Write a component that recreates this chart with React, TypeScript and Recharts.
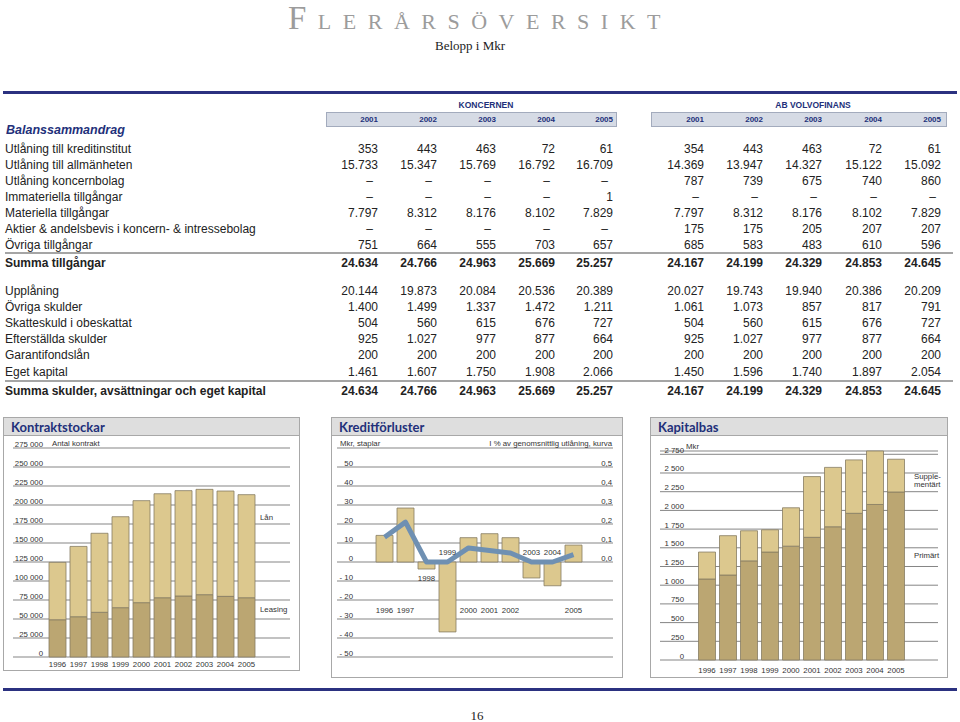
import React from "react";
import { ComposedChart, Bar, Line, XAxis, YAxis, CartesianGrid } from "recharts";

// ---- table data (Mkr) ----
const tableYears = ["2001", "2002", "2003", "2004", "2005"];

const assetLabels = [
  "Utlåning till kreditinstitut",
  "Utlåning till allmänheten",
  "Utlåning koncernbolag",
  "Immateriella tillgångar",
  "Materiella tillgångar",
  "Aktier & andelsbevis i koncern- & intressebolag",
  "Övriga tillgångar",
];
const assetKoncernen = [
  ["353", "443", "463", "72", "61"],
  ["15.733", "15.347", "15.769", "16.792", "16.709"],
  ["–", "–", "–", "–", "–"],
  ["–", "–", "–", "–", "1"],
  ["7.797", "8.312", "8.176", "8.102", "7.829"],
  ["–", "–", "–", "–", "–"],
  ["751", "664", "555", "703", "657"],
];
const assetVolvofinans = [
  ["354", "443", "463", "72", "61"],
  ["14.369", "13.947", "14.327", "15.122", "15.092"],
  ["787", "739", "675", "740", "860"],
  ["–", "–", "–", "–", "–"],
  ["7.797", "8.312", "8.176", "8.102", "7.829"],
  ["175", "175", "205", "207", "207"],
  ["685", "583", "483", "610", "596"],
];
const sumKoncernen = ["24.634", "24.766", "24.963", "25.669", "25.257"];
const sumVolvofinans = ["24.167", "24.199", "24.329", "24.853", "24.645"];

const liabilityLabels = [
  "Upplåning",
  "Övriga skulder",
  "Skatteskuld i obeskattat",
  "Efterställda skulder",
  "Garantifondslån",
  "Eget kapital",
];
const liabilityKoncernen = [
  ["20.144", "19.873", "20.084", "20.536", "20.389"],
  ["1.400", "1.499", "1.337", "1.472", "1.211"],
  ["504", "560", "615", "676", "727"],
  ["925", "1.027", "977", "877", "664"],
  ["200", "200", "200", "200", "200"],
  ["1.461", "1.607", "1.750", "1.908", "2.066"],
];
const liabilityVolvofinans = [
  ["20.027", "19.743", "19.940", "20.386", "20.209"],
  ["1.061", "1.073", "857", "817", "791"],
  ["504", "560", "615", "676", "727"],
  ["925", "1.027", "977", "877", "664"],
  ["200", "200", "200", "200", "200"],
  ["1.450", "1.596", "1.740", "1.897", "2.054"],
];

// ---- chart data ----
const years = ["1996", "1997", "1998", "1999", "2000", "2001", "2002", "2003", "2004", "2005"];

// Kontraktstockar (antal kontrakt)
const leasing = [49000, 53000, 58800, 64900, 71500, 78000, 80300, 82000, 79800, 78000];
const lan = [75500, 92500, 104000, 119700, 134200, 136800, 138600, 138600, 138600, 135600];
const contractTicks = [0, 25000, 50000, 75000, 100000, 125000, 150000, 175000, 200000, 225000, 250000, 275000];

// Kreditförluster
const lossMkr = [14.0, 28.4, -3.7, -36.8, 12.8, 14.9, 12.8, -8.4, -12.5, 8.9];
const lossPct = [0.13, 0.21, 0.0, 0.0, 0.074, 0.06, 0.047, 0.0, 0.0, 0.039];
const lossTicks = [-50, -40, -30, -20, -10, 0, 10, 20, 30, 40, 50, 60];
const pctTicks = [0, 0.1, 0.2, 0.3, 0.4, 0.5];

// Kapitalbas (Mkr)
const primart = [1083, 1136, 1325, 1443, 1522, 1640, 1781, 1961, 2079, 2246];
const supplementart = [360, 526, 403, 298, 513, 812, 794, 714, 715, 438];
const capitalTicks = [0, 250, 500, 750, 1000, 1250, 1500, 1750, 2000, 2250, 2500, 2750];

// where the year labels sit in the Kreditförluster chart (Mkr level)
const yearLabelLevel = [-25.6, -25.6, -8.3, 5.4, -25.6, -25.6, -25.6, 5.4, 5.4, -25.6];

const contractData = years.map((year, i) => ({ year, leasing: leasing[i], lan: lan[i] }));
const lossData = years.map((year, i) => ({
  year,
  mkr: lossMkr[i],
  pct: lossPct[i],
  labelLevel: yearLabelLevel[i],
}));
const capitalData = years.map((year, i) => ({ year, primart: primart[i], supplementart: supplementart[i] }));

// ---- styles ----
const SANS = "'Liberation Sans', Arial, sans-serif";
const SERIF = "'Liberation Serif', 'Times New Roman', serif";
const NAVY = "#22307a";
const GRID = "#858585";
const TXT = "#333";
const LIGHT = "#dcc88e";
const DARK = "#bba672";
const EDGE = "#877c62";
const FS = 7.8;

const thousands = (v: number) => String(v).replace(/\B(?=(\d{3})+(?!\d))/g, " ");
const signed = (v: number) => (v < 0 ? "- " + Math.abs(v) : String(v));
const pct = (v: number) => v.toFixed(1).replace(".", ",");

const axisTick = (anchorX: number, fmt: (v: number) => string) => (props: any) => (
  <text x={anchorX} y={props.y - 1.5} textAnchor="end" fontSize={FS} fontFamily={SANS} fill={TXT}>
    {fmt(props.payload.value)}
  </text>
);

function T(props: {
  x: number;
  y: number;
  children: React.ReactNode;
  size?: number;
  bold?: boolean;
  italic?: boolean;
  color?: string;
  align?: "left" | "right" | "center";
  font?: string;
}) {
  const size = props.size ?? 12;
  const lh = Math.round(size * 1.25);
  const align = props.align ?? "left";
  const w = 400;
  const left = align === "left" ? props.x : align === "right" ? props.x - w : props.x - w / 2;
  return (
    <div
      style={{
        position: "absolute",
        left,
        top: props.y - lh / 2,
        width: w,
        height: lh,
        lineHeight: lh + "px",
        fontSize: size,
        fontFamily: props.font ?? SANS,
        fontWeight: props.bold ? "bold" : "normal",
        fontStyle: props.italic ? "italic" : "normal",
        color: props.color ?? "#222",
        textAlign: align,
        whiteSpace: "nowrap",
      }}
    >
      {props.children}
    </div>
  );
}

const koncernenCols = [378, 437, 496, 555, 613];
const volvoCols = [704, 763, 822, 882, 941];
const assetRowY = [149, 165.5, 181.5, 197.5, 213.5, 229.5, 245.5];
const assetSumY = 263.5;
const liabilityRowY = [291, 307, 323, 339, 355.5, 372];
const liabilitySumY = 391;

function Values({ vals, cols, y, bold }: { vals: string[]; cols: number[]; y: number; bold?: boolean }) {
  return (
    <>
      {vals.map((v, i) => (
        <T key={i} x={v === "–" ? cols[i] - 5 : cols[i]} y={y} align="right" bold={bold}>
          {v}
        </T>
      ))}
    </>
  );
}

function Panel({ left, top, width, height, title }: { left: number; top: number; width: number; height: number; title: string }) {
  return (
    <div
      style={{
        position: "absolute",
        left,
        top,
        width,
        height,
        border: "1px solid #a8a8a8",
        boxSizing: "border-box",
        background: "#fff",
      }}
    >
      <div
        style={{
          height: 18,
          background: "#dedede",
          borderBottom: "1px solid #a8a8a8",
          boxSizing: "border-box",
          paddingLeft: 7,
          lineHeight: "18px",
          fontFamily: "Lato, sans-serif",
          fontWeight: "bold",
          fontSize: 13,
          color: NAVY,
        }}
      >
        {title}
      </div>
    </div>
  );
}

function ContractChart() {
  return (
    <div style={{ position: "absolute", left: 3, top: 436 }}>
      <ComposedChart width={297} height={236} data={contractData} margin={{ top: 12, right: 10, bottom: 1, left: 9 }}>
        <CartesianGrid vertical={false} stroke={GRID} />
        <XAxis
          dataKey="year"
          padding={{ left: 34, right: 33 }}
          axisLine={false}
          tickLine={false}
          tickSize={0}
          tickMargin={4.5}
          height={14}
          interval={0}
          tick={{ fontSize: FS, fill: TXT, fontFamily: SANS }}
        />
        <YAxis
          domain={[0, 275000]}
          ticks={contractTicks}
          interval={0}
          width={1}
          axisLine={false}
          tickLine={false}
          tick={axisTick(40, thousands)}
        />
        <Bar dataKey="leasing" stackId="s" fill={DARK} stroke={EDGE} strokeWidth={0.8} barSize={17} isAnimationActive={false} />
        <Bar dataKey="lan" stackId="s" fill={LIGHT} stroke={EDGE} strokeWidth={0.8} barSize={17} isAnimationActive={false} />
      </ComposedChart>
    </div>
  );
}

function LossChart() {
  return (
    <div style={{ position: "absolute", left: 331, top: 436 }}>
      <ComposedChart width={292} height={236} data={lossData} margin={{ top: 12, right: 9, bottom: 15, left: 5 }}>
        <CartesianGrid vertical={false} stroke={GRID} yAxisId="left" />
        <XAxis dataKey="year" hide padding={{ left: 37, right: 29 }} />
        <YAxis
          yAxisId="left"
          domain={[-50, 60]}
          ticks={lossTicks}
          interval={0}
          width={1}
          axisLine={false}
          tickLine={false}
          tick={axisTick(22, (v) => (v === 60 ? "" : signed(v)))}
        />
        <YAxis
          yAxisId="right"
          orientation="right"
          domain={[-0.5, 0.6]}
          ticks={pctTicks}
          interval={0}
          width={1}
          axisLine={false}
          tickLine={false}
          tick={axisTick(281, pct)}
        />
        <Bar yAxisId="left" dataKey="mkr" fill={LIGHT} stroke={EDGE} strokeWidth={0.8} barSize={17} isAnimationActive={false} />
        <Line
          yAxisId="right"
          dataKey="pct"
          stroke="#6f90b2"
          strokeWidth={5}
          strokeLinejoin="round"
          dot={false}
          activeDot={false}
          isAnimationActive={false}
        />
        <Line
          yAxisId="left"
          dataKey="labelLevel"
          stroke="none"
          activeDot={false}
          isAnimationActive={false}
          dot={(p: any) => (
            <text key={"yl" + p.index} x={p.cx} y={p.cy + 2.8} textAnchor="middle" fontSize={FS} fontFamily={SANS} fill={TXT}>
              {p.payload.year}
            </text>
          )}
        />
      </ComposedChart>
    </div>
  );
}

function CapitalChart() {
  return (
    <div style={{ position: "absolute", left: 650, top: 438 }}>
      <ComposedChart width={298} height={236} data={capitalData} margin={{ top: 13, right: 10, bottom: 1, left: 9 }}>
        <CartesianGrid vertical={false} stroke={GRID} />
        <XAxis
          dataKey="year"
          padding={{ left: 36.5, right: 31.5 }}
          axisLine={false}
          tickLine={false}
          tickSize={0}
          tickMargin={7}
          height={13}
          interval={0}
          tick={{ fontSize: FS, fill: TXT, fontFamily: SANS }}
        />
        <YAxis
          domain={[0, 2750]}
          ticks={capitalTicks}
          interval={0}
          width={1}
          axisLine={false}
          tickLine={false}
          tick={axisTick(34, thousands)}
        />
        <Bar dataKey="primart" stackId="s" fill={DARK} stroke={EDGE} strokeWidth={0.8} barSize={17} isAnimationActive={false} />
        <Bar dataKey="supplementart" stackId="s" fill={LIGHT} stroke={EDGE} strokeWidth={0.8} barSize={17} isAnimationActive={false} />
      </ComposedChart>
    </div>
  );
}

export default function App() {
  return (
    <div style={{ position: "absolute", left: 0, top: 0, width: 960, height: 722, background: "#fff", overflow: "hidden" }}>
      {/* page title */}
      <div
        style={{
          position: "absolute",
          left: 288,
          top: 0,
          whiteSpace: "nowrap",
          fontFamily: SERIF,
          color: "#9c9c9c",
          fontSize: 33,
          lineHeight: "37px",
          letterSpacing: 11.5,
        }}
      >
        F<span style={{ fontSize: 22 }}>LERÅRSÖVERSIKT</span>
      </div>
      <T x={435} y={46} size={13} font={SERIF} color="#222">
        Belopp i Mkr
      </T>

      <div style={{ position: "absolute", left: 3, top: 91, width: 954, height: 3, background: "#2b3180" }} />

      {/* table header */}
      <T x={486} y={105} size={8.5} bold color={NAVY} align="center">
        KONCERNEN
      </T>
      <T x={813} y={105} size={8.5} bold color={NAVY} align="center">
        AB VOLVOFINANS
      </T>
      <div style={{ position: "absolute", left: 326, top: 112, width: 291, height: 15, background: "#d6dbe5", border: "1px solid #a3abbd", boxSizing: "border-box" }} />
      <div style={{ position: "absolute", left: 651, top: 112, width: 296, height: 15, background: "#d6dbe5", border: "1px solid #a3abbd", boxSizing: "border-box" }} />
      {tableYears.map((y, i) => (
        <React.Fragment key={y}>
          <T x={koncernenCols[i]} y={119.5} size={8} bold color={NAVY} align="right">
            {y}
          </T>
          <T x={volvoCols[i]} y={119.5} size={8} bold color={NAVY} align="right">
            {y}
          </T>
        </React.Fragment>
      ))}
      <T x={6} y={130} size={12.5} bold italic color={NAVY}>
        Balanssammandrag
      </T>

      {/* assets */}
      {assetLabels.map((label, r) => (
        <React.Fragment key={label}>
          <T x={5} y={assetRowY[r]}>{label}</T>
          <Values vals={assetKoncernen[r]} cols={koncernenCols} y={assetRowY[r]} />
          <Values vals={assetVolvofinans[r]} cols={volvoCols} y={assetRowY[r]} />
        </React.Fragment>
      ))}
      <div style={{ position: "absolute", left: 5, top: 252, width: 948, height: 2, background: "#a5a5a5" }} />
      <T x={5} y={assetSumY} bold>
        Summa tillgångar
      </T>
      <Values vals={sumKoncernen} cols={koncernenCols} y={assetSumY} bold />
      <Values vals={sumVolvofinans} cols={volvoCols} y={assetSumY} bold />

      {/* liabilities */}
      {liabilityLabels.map((label, r) => (
        <React.Fragment key={label}>
          <T x={5} y={liabilityRowY[r]}>{label}</T>
          <Values vals={liabilityKoncernen[r]} cols={koncernenCols} y={liabilityRowY[r]} />
          <Values vals={liabilityVolvofinans[r]} cols={volvoCols} y={liabilityRowY[r]} />
        </React.Fragment>
      ))}
      <div style={{ position: "absolute", left: 5, top: 380, width: 948, height: 2, background: "#a5a5a5" }} />
      <T x={5} y={liabilitySumY} bold>
        Summa skulder, avsättningar och eget kapital
      </T>
      <Values vals={sumKoncernen} cols={koncernenCols} y={liabilitySumY} bold />
      <Values vals={sumVolvofinans} cols={volvoCols} y={liabilitySumY} bold />

      {/* chart panels */}
      <Panel left={3} top={417} width={297} height={254} title="Kontraktstockar" />
      <Panel left={331} top={417} width={292} height={261} title="Kreditförluster" />
      <Panel left={650} top={417} width={298} height={261} title="Kapitalbas" />

      <ContractChart />
      <T x={52} y={444} size={FS} color={TXT}>Antal kontrakt</T>
      <T x={260} y={518} size={FS} color={TXT}>Lån</T>
      <T x={260} y={610} size={FS} color={TXT}>Leasing</T>

      <LossChart />
      <T x={340} y={444} size={FS} color={TXT}>Mkr, staplar</T>
      <T x={612} y={444} size={FS} color={TXT} align="right">I % av genomsnittlig utlåning, kurva</T>

      <CapitalChart />
      <T x={686} y={446.5} size={FS} color={TXT}>Mkr</T>
      <T x={914} y={477} size={FS} color={TXT}>Supple-</T>
      <T x={914} y={485} size={FS} color={TXT}>mentärt</T>
      <T x={914} y={556} size={FS} color={TXT}>Primärt</T>

      <div style={{ position: "absolute", left: 3, top: 688, width: 954, height: 3, background: "#2b3180" }} />
      <T x={477} y={716} size={13} font={SERIF} color="#222" align="center">16</T>
    </div>
  );
}
